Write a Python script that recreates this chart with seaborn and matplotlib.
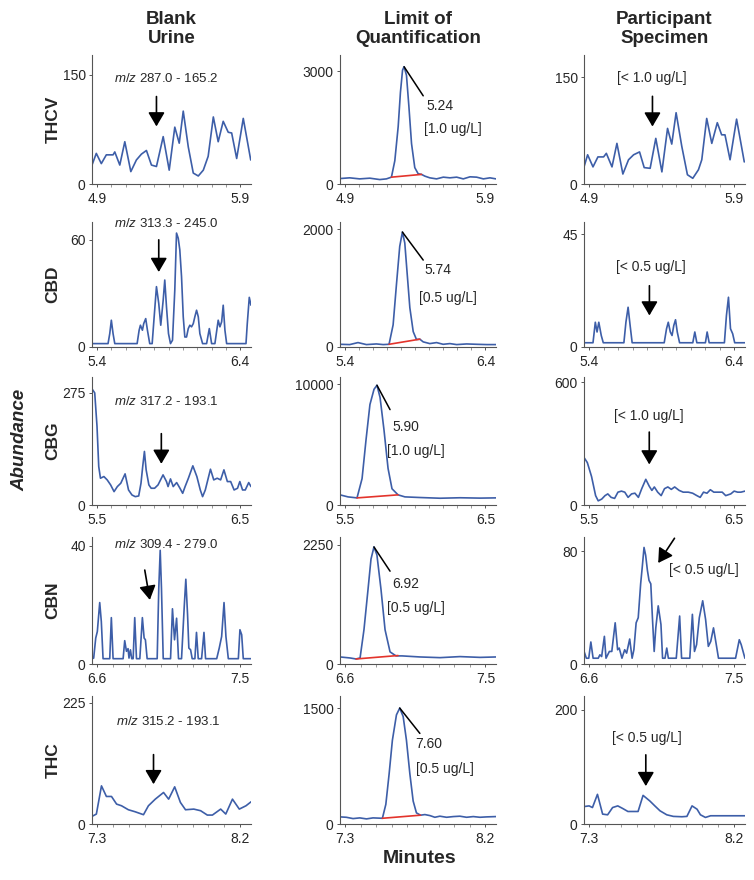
import numpy as np
import matplotlib
matplotlib.use("Agg")
import matplotlib.pyplot as plt
import seaborn as sns
from matplotlib.ticker import MultipleLocator

# ---------------- data ----------------
compounds = ["THCV", "CBD", "CBG", "CBN", "THC"]
column_titles = ["Blank\nUrine", "Limit of\nQuantification", "Participant\nSpecimen"]
x_ranges = [(4.9, 5.9), (5.4, 6.4), (5.5, 6.5), (6.6, 7.5), (7.3, 8.2)]
transitions = ["287.0 - 165.2", "313.3 - 245.0", "317.2 - 193.1", "309.4 - 279.0", "315.2 - 193.1"]
# labelled y tick (blank, loq, participant) and the axis top
y_top_ticks = [(150, 3000, 150), (60, 2000, 45), (275, 10000, 600), (40, 2250, 80), (225, 1500, 200)]
y_limits = [(177, 3430, 181), (70, 2125, 50), (314, 10600, 625), (43, 2400, 90), (238, 1656, 224)]
loq_rt = ["5.24", "5.74", "5.90", "6.92", "7.60"]
loq_conc = ["[1.0 ug/L]", "[0.5 ug/L]", "[1.0 ug/L]", "[0.5 ug/L]", "[0.5 ug/L]"]
participant_conc = ["[< 1.0 ug/L]", "[< 0.5 ug/L]", "[< 1.0 ug/L]", "[< 0.5 ug/L]", "[< 0.5 ug/L]"]

# THCV
thcv_blank_t = [4.865, 4.895, 4.930, 4.965, 5.012, 5.024, 5.059, 5.094, 5.136, 5.175, 5.210, 5.245, 5.280,
                5.315, 5.362, 5.404, 5.443, 5.474, 5.502, 5.537, 5.572, 5.607, 5.642, 5.676, 5.712, 5.746,
                5.781, 5.816, 5.840, 5.875, 5.921, 5.973]
thcv_blank_y = [26, 42, 28, 40, 40, 44, 26, 58, 17, 33, 41, 46, 26, 24, 65, 19, 78, 56, 100, 51, 15, 11, 19,
                38, 92, 58, 86, 71, 70, 35, 90, 33]
thcv_loq_t = [4.865, 4.934, 5.005, 5.077, 5.148, 5.195, 5.231, 5.255, 5.279, 5.295, 5.310, 5.321, 5.338, 5.355,
              5.374, 5.397, 5.421, 5.445, 5.469, 5.504, 5.552, 5.600, 5.647, 5.695, 5.742, 5.790, 5.837, 5.885,
              5.932, 5.975]
thcv_loq_y = [145, 164, 136, 155, 118, 136, 182, 618, 1527, 2436, 3027, 3118, 2891, 2073, 1073, 436, 273, 255,
              209, 164, 136, 182, 164, 182, 136, 191, 182, 136, 164, 136]
thcv_base_t = [5.231, 5.445]
thcv_base_y = [182, 255]
thcv_part_t = [4.865, 4.890, 4.927, 4.961, 5.000, 5.019, 5.058, 5.092, 5.133, 5.172, 5.207, 5.248, 5.280, 5.321,
               5.360, 5.402, 5.441, 5.470, 5.500, 5.539, 5.578, 5.615, 5.654, 5.677, 5.711, 5.746, 5.784, 5.814,
               5.837, 5.872, 5.917, 5.970]
thcv_part_y = [24, 41, 24, 38, 38, 43, 24, 57, 14, 34, 41, 45, 23, 22, 64, 17, 78, 56, 100, 53, 13, 8, 20, 34,
               92, 57, 86, 69, 69, 34, 91, 31]

# CBD
cbd_blank_t = [5.365, 5.477, 5.489, 5.500, 5.512, 5.524, 5.680, 5.694, 5.703, 5.717, 5.726, 5.740, 5.752, 5.768,
               5.785, 5.799, 5.815, 5.831, 5.845, 5.862, 5.873, 5.885, 5.899, 5.913, 5.927, 5.943, 5.955, 5.967,
               5.978, 5.990, 6.002, 6.013, 6.025, 6.037, 6.048, 6.060, 6.072, 6.083, 6.095, 6.107, 6.118, 6.137,
               6.165, 6.184, 6.200, 6.223, 6.246, 6.258, 6.270, 6.281, 6.293, 6.305, 6.440, 6.449, 6.463, 6.475]
cbd_blank_y = [1.9, 1.9, 7.5, 15, 7.5, 1.9, 1.9, 9.4, 12.2, 9.4, 13.1, 15.9, 9.4, 1.9, 1.9, 16.9, 33.8, 24.4,
               12.2, 26.3, 37.5, 22.5, 7.5, 1.9, 3.8, 31.9, 63.8, 60.9, 54.4, 39.4, 16.9, 5.6, 5.6, 10.3, 12.2,
               11.3, 13.1, 16.9, 20.6, 16.9, 7.5, 1.9, 1.9, 10.3, 1.9, 1.9, 15.0, 11.3, 14.1, 23.4, 9.4, 1.9,
               1.9, 13.1, 27.8, 23.4]
cbd_loq_t = [5.365, 5.434, 5.493, 5.553, 5.624, 5.672, 5.714, 5.743, 5.767, 5.790, 5.809, 5.826, 5.843, 5.862,
             5.886, 5.909, 5.933, 5.957, 6.004, 6.052, 6.099, 6.147, 6.195, 6.266, 6.337, 6.409, 6.475]
cbd_loq_y = [46, 41, 75, 41, 52, 41, 46, 377, 1072, 1710, 1954, 1768, 1246, 667, 261, 128, 133, 87, 58, 75, 46,
             58, 41, 52, 46, 41, 41]
cbd_base_t = [5.714, 5.933]
cbd_base_y = [46, 133]
cbd_part_t = [5.365, 5.427, 5.443, 5.455, 5.467, 5.484, 5.498, 5.640, 5.654, 5.669, 5.683, 5.697, 5.918, 5.934,
              5.946, 5.960, 5.972, 5.984, 5.996, 6.008, 6.024, 6.115, 6.129, 6.143, 6.202, 6.214, 6.228, 6.333,
              6.347, 6.361, 6.375, 6.390, 6.404, 6.475]
cbd_part_y = [1.7, 1.7, 9.9, 6.0, 9.9, 4.6, 1.7, 1.7, 9.9, 15.9, 8.6, 1.7, 1.7, 7.3, 9.9, 6.0, 4.6, 8.6, 10.9,
              6.0, 1.7, 1.7, 6.0, 1.7, 1.7, 6.0, 1.7, 1.7, 12.6, 19.9, 7.3, 5.3, 1.7, 1.7]

# CBG
cbg_blank_t = [5.465, 5.484, 5.500, 5.512, 5.524, 5.548, 5.571, 5.595, 5.619, 5.642, 5.666, 5.696, 5.720, 5.744,
               5.767, 5.791, 5.807, 5.819, 5.831, 5.843, 5.862, 5.878, 5.902, 5.926, 5.961, 5.985, 5.996, 6.013,
               6.032, 6.056, 6.079, 6.098, 6.115, 6.138, 6.169, 6.197, 6.221, 6.237, 6.256, 6.292, 6.315, 6.339,
               6.363, 6.386, 6.410, 6.433, 6.457, 6.481, 6.497, 6.516, 6.535, 6.559, 6.575]
cbg_blank_y = [284.9, 275, 193, 94.4, 65.7, 69.8, 61.6, 49.3, 32.8, 45.2, 53.4, 76.4, 36.9, 24.6, 20.5, 22.2,
               53.4, 94.4, 131.4, 86.2, 49.3, 41.1, 41.1, 49.3, 73.9, 57.5, 45.2, 64.0, 45.2, 55.0, 41.1, 28.7,
               45.2, 65.7, 96.1, 69.8, 36.9, 20.5, 36.9, 87.8, 61.6, 65.7, 61.6, 86.2, 57.5, 57.5, 36.9, 41.1,
               57.5, 36.9, 36.9, 55.0, 45.2]
cbg_loq_t = [5.465, 5.522, 5.586, 5.622, 5.650, 5.678, 5.707, 5.728, 5.750, 5.778, 5.807, 5.835, 5.878, 5.927,
             6.034, 6.177, 6.319, 6.461, 6.575]
cbg_loq_y = [840, 672, 588, 2185, 5378, 8319, 9580, 9916, 8907, 6218, 3025, 1345, 840, 672, 620, 560, 600, 570,
             590]
cbg_base_t = [5.586, 5.878]
cbg_base_y = [588, 840]
cbg_part_t = [5.465, 5.488, 5.517, 5.545, 5.563, 5.587, 5.610, 5.629, 5.652, 5.676, 5.699, 5.723, 5.746, 5.769,
              5.793, 5.816, 5.840, 5.863, 5.891, 5.915, 5.933, 5.950, 5.973, 5.997, 6.020, 6.043, 6.067, 6.090,
              6.121, 6.149, 6.184, 6.214, 6.243, 6.266, 6.289, 6.313, 6.336, 6.360, 6.383, 6.418, 6.442, 6.477,
              6.500, 6.524, 6.547, 6.575]
cbg_part_y = [232, 207, 139, 45.8, 20.3, 28.8, 45.8, 54.2, 37.3, 32.2, 62.7, 67.8, 62.7, 37.3, 54.2, 57.6, 37.3,
              79.7, 125.4, 91.5, 71.2, 88.1, 62.7, 45.8, 79.7, 88.1, 76.3, 88.1, 71.2, 62.7, 62.7, 57.6, 45.8,
              37.3, 62.7, 57.6, 74.6, 62.7, 62.7, 62.7, 45.8, 54.2, 67.8, 62.7, 62.7, 67.8]

# CBN
cbn_blank_t = [6.569, 6.579, 6.592, 6.602, 6.617, 6.627, 6.638, 6.680, 6.690, 6.701, 6.764, 6.774, 6.785, 6.795,
               6.801, 6.810, 6.818, 6.827, 6.837, 6.848, 6.869, 6.885, 6.896, 6.904, 6.915, 6.978, 6.988, 6.997,
               7.005, 7.016, 7.062, 7.074, 7.087, 7.100, 7.112, 7.131, 7.148, 7.158, 7.169, 7.177, 7.188, 7.198,
               7.215, 7.225, 7.236, 7.257, 7.272, 7.282, 7.352, 7.368, 7.383, 7.398, 7.410, 7.425, 7.488, 7.498,
               7.509, 7.519, 7.568]
cbn_blank_y = [1.8, 2.0, 8.8, 11.0, 20.8, 14.4, 1.8, 1.8, 15.7, 1.8, 1.8, 7.9, 4.3, 5.2, 2.0, 4.8, 1.8, 1.8,
               15.7, 1.8, 1.8, 15.7, 8.8, 8.2, 1.8, 1.8, 25.6, 38.5, 25.6, 1.8, 1.8, 18.7, 8.2, 15.5, 1.8, 1.8,
               19.4, 28.7, 16.6, 5.4, 4.8, 1.8, 1.8, 10.7, 1.8, 1.8, 10.7, 1.8, 1.8, 5.4, 9.3, 20.8, 9.3, 1.8,
               1.8, 11.6, 9.9, 1.8, 1.8]
cbn_loq_t = [6.569, 6.633, 6.671, 6.697, 6.722, 6.748, 6.767, 6.786, 6.805, 6.831, 6.857, 6.889, 6.927, 6.966,
             7.081, 7.209, 7.337, 7.465, 7.568]
cbn_loq_y = [133, 114, 95, 114, 648, 1411, 1983, 2212, 2060, 1411, 648, 229, 153, 153, 133, 120, 140, 125, 133]
cbn_base_t = [6.671, 6.940]
cbn_base_y = [95, 160]
cbn_part_t = [6.569, 6.583, 6.598, 6.611, 6.625, 6.657, 6.667, 6.678, 6.695, 6.705, 6.726, 6.741, 6.762, 6.777,
              6.787, 6.804, 6.821, 6.833, 6.852, 6.867, 6.878, 6.892, 6.905, 6.920, 6.930, 6.941, 6.951, 6.962,
              6.972, 6.983, 6.993, 7.004, 7.014, 7.029, 7.046, 7.056, 7.071, 7.082, 7.092, 7.141, 7.162, 7.174,
              7.225, 7.241, 7.254, 7.267, 7.284, 7.305, 7.323, 7.340, 7.355, 7.372, 7.386, 7.403, 7.509, 7.532,
              7.544, 7.567]
cbn_part_y = [8.9, 4.1, 4.1, 15.6, 4.1, 4.1, 6.5, 5.3, 19.6, 4.1, 8.9, 8.9, 29.2, 10.1, 11.3, 4.1, 10.1, 7.7,
              17.7, 4.1, 10.1, 29.2, 32.8, 56.8, 68.7, 82.6, 77.1, 66.3, 59.2, 56.8, 32.8, 8.9, 25.6, 41.2, 28.0,
              4.1, 4.1, 11.3, 4.1, 4.1, 34.0, 4.1, 4.1, 35.2, 8.9, 13.7, 32.8, 44.8, 31.6, 12.5, 16.0, 25.6,
              16.0, 4.1, 4.1, 17.2, 13.7, 4.1]

# THC
thc_blank_t = [7.269, 7.296, 7.328, 7.359, 7.391, 7.423, 7.454, 7.497, 7.539, 7.592, 7.623, 7.666, 7.718, 7.750,
               7.788, 7.824, 7.856, 7.908, 7.951, 7.993, 8.025, 8.077, 8.109, 8.151, 8.194, 8.236, 8.268]
thc_blank_y = [14.2, 18.5, 70.9, 51.2, 51.2, 37.0, 33.9, 26.5, 22.8, 17.3, 33.9, 46.2, 58.6, 46.2, 69.1, 40.1,
               26.5, 27.7, 24.7, 16.6, 16.6, 27.7, 18.5, 46.2, 27.7, 33.9, 41.3]
thc_loq_t = [7.269, 7.309, 7.352, 7.395, 7.438, 7.480, 7.540, 7.562, 7.583, 7.604, 7.630, 7.651, 7.673, 7.694,
             7.716, 7.737, 7.758, 7.784, 7.812, 7.844, 7.876, 7.908, 7.951, 7.994, 8.036, 8.079, 8.122, 8.165,
             8.208, 8.267]
thc_loq_y = [92, 87, 70, 79, 66, 79, 74, 254, 647, 1084, 1412, 1500, 1390, 1084, 647, 297, 144, 114, 122, 109,
             87, 101, 87, 96, 101, 87, 96, 87, 92, 96]
thc_base_t = [7.540, 7.784]
thc_base_y = [74, 114]
thc_part_t = [7.269, 7.300, 7.321, 7.352, 7.384, 7.415, 7.446, 7.478, 7.509, 7.541, 7.604, 7.635, 7.677, 7.708,
              7.740, 7.782, 7.823, 7.876, 7.907, 7.939, 7.970, 7.991, 8.022, 8.054, 8.267]
thc_part_y = [30.5, 31.7, 28.8, 51.9, 17.3, 16.1, 28.8, 31.7, 27.1, 21.9, 21.9, 50.1, 40.3, 31.7, 23.1, 16.1,
              13.3, 12.7, 13.3, 31.7, 25.9, 16.1, 11.5, 14.4, 14.4]

blank_traces = [(thcv_blank_t, thcv_blank_y), (cbd_blank_t, cbd_blank_y), (cbg_blank_t, cbg_blank_y),
                (cbn_blank_t, cbn_blank_y), (thc_blank_t, thc_blank_y)]
loq_traces = [(thcv_loq_t, thcv_loq_y), (cbd_loq_t, cbd_loq_y), (cbg_loq_t, cbg_loq_y),
              (cbn_loq_t, cbn_loq_y), (thc_loq_t, thc_loq_y)]
loq_baselines = [(thcv_base_t, thcv_base_y), (cbd_base_t, cbd_base_y), (cbg_base_t, cbg_base_y),
                 (cbn_base_t, cbn_base_y), (thc_base_t, thc_base_y)]
part_traces = [(thcv_part_t, thcv_part_y), (cbd_part_t, cbd_part_y), (cbg_part_t, cbg_part_y),
               (cbn_part_t, cbn_part_y), (thc_part_t, thc_part_y)]

# ---------------- layout / annotation placement ----------------
FIG_W, FIG_H = 754, 880
col_left_px = [92, 340, 584]
col_right_px = [251, 496, 745]
row_top_px = [55, 222, 377, 537, 696]
row_bot_px = [184, 347, 505, 664, 824]

# blank: (text x, text y), arrow tail, arrow tip
blank_text_xy = [(5.385, 145), (5.885, 69), (5.985, 254), (7.037, 40.4), (7.750, 191)]
blank_arrow = [((5.315, 120), (5.315, 79)), ((5.831, 60), (5.831, 42)), ((5.949, 175), (5.949, 101)),
               ((6.900, 31.8), (6.932, 21.7)), ((7.655, 129), (7.655, 74))]
# participant
part_text_xy = [(5.333, 148.6), (5.823, 31.8), (5.915, 435), (7.094, 66.3), (7.656, 150)]
part_text_ha = ["center", "center", "center", "left", "center"]
part_arrow = [((5.337, 123), (5.337, 80.6)), ((5.816, 24.5), (5.816, 12.6)), ((5.915, 356), (5.915, 198)),
              ((7.130, 89.1), (7.029, 71.6)), ((7.652, 121), (7.652, 66.3))]
# loq: leader end, rt label, concentration label
loq_leader_end = [(5.457, 2345), (5.957, 1478), (5.821, 7899), (6.889, 1754), (7.780, 1172)]
loq_rt_xy = [(5.481, 2073), (5.969, 1304), (5.835, 6470), (6.902, 1507), (7.748, 1041)]
loq_conc_xy = [(5.462, 1455), (5.926, 829), (5.799, 4454), (6.870, 1049), (7.758, 713)]

BLUE = "#3d5ea8"
RED = "#e3342c"
SPINE = "#555555"

sns.set_style("ticks")
plt.rcParams.update({
    "font.family": ["Liberation Sans", "DejaVu Sans"],
    "mathtext.fontset": "custom",
    "mathtext.rm": "Liberation Sans",
    "mathtext.it": "Liberation Sans:italic",
    "axes.edgecolor": SPINE,
    "axes.linewidth": 0.8,
})

fig = plt.figure(figsize=(FIG_W / 100, FIG_H / 100), dpi=100)


def make_axes(row, col):
    l = col_left_px[col] / FIG_W
    w = (col_right_px[col] - col_left_px[col]) / FIG_W
    b = 1 - row_bot_px[row] / FIG_H
    h = (row_bot_px[row] - row_top_px[row]) / FIG_H
    return fig.add_axes([l, b, w, h])


def style_axes(ax, row, col):
    lo, hi = x_ranges[row]
    span = hi - lo
    ax.set_xlim(lo - 0.035 * span, hi + 0.075 * span)
    ax.set_ylim(0, y_limits[row][col])
    ax.set_xticks([lo, hi], labels=[f"{lo:.1f}", f"{hi:.1f}"])
    ax.xaxis.set_minor_locator(MultipleLocator(0.1))
    top = y_top_ticks[row][col]
    ax.set_yticks([0, top], labels=["0", str(top)])
    ax.set_xlabel("")
    ax.set_ylabel("")
    ax.tick_params(axis="x", which="major", length=2.5, width=0.7, pad=3.5, labelsize=10, color=SPINE)
    ax.tick_params(axis="x", which="minor", length=2, width=0.6, color="#888888")
    ax.tick_params(axis="y", which="major", length=2, width=0.7, pad=2.5, labelsize=10, color=SPINE)
    sns.despine(ax=ax)


def draw_arrow(ax, tail, tip):
    ax.annotate("", xy=tip, xytext=tail,
                arrowprops=dict(arrowstyle="-|>,head_length=0.85,head_width=0.5", mutation_scale=10,
                                color="black", lw=1.2, shrinkA=0, shrinkB=0))


for r in range(5):
    # blank urine
    ax = make_axes(r, 0)
    t, y = blank_traces[r]
    sns.lineplot(x=t, y=y, ax=ax, color=BLUE, linewidth=1.2, estimator=None, sort=False)
    style_axes(ax, r, 0)
    tx, ty = blank_text_xy[r]
    ax.text(tx, ty, r"$\mathit{m/z}$ " + transitions[r], ha="center", va="center", fontsize=9.5)
    draw_arrow(ax, *blank_arrow[r])
    ax.text(-0.245, 0.5, compounds[r], transform=ax.transAxes, rotation=90, ha="center", va="center",
            fontsize=12.5, fontweight="bold")

    # limit of quantification
    ax = make_axes(r, 1)
    t, y = loq_traces[r]
    sns.lineplot(x=t, y=y, ax=ax, color=BLUE, linewidth=1.2, estimator=None, sort=False)
    bt, by = loq_baselines[r]
    sns.lineplot(x=bt, y=by, ax=ax, color=RED, linewidth=1.2, estimator=None, sort=False)
    style_axes(ax, r, 1)
    k = int(np.argmax(y))
    ex, ey = loq_leader_end[r]
    ax.plot([t[k], ex], [y[k], ey], color="black", lw=1.1)
    ax.text(*loq_rt_xy[r], loq_rt[r], ha="left", va="center", fontsize=10)
    ax.text(*loq_conc_xy[r], loq_conc[r], ha="left", va="center", fontsize=10)

    # participant specimen
    ax = make_axes(r, 2)
    t, y = part_traces[r]
    sns.lineplot(x=t, y=y, ax=ax, color=BLUE, linewidth=1.2, estimator=None, sort=False)
    style_axes(ax, r, 2)
    ax.text(*part_text_xy[r], participant_conc[r], ha=part_text_ha[r], va="center", fontsize=10)
    draw_arrow(ax, *part_arrow[r])

# column titles
for c in range(3):
    cx = (col_left_px[c] + col_right_px[c]) / 2 / FIG_W
    fig.text(cx, 1 - 29 / FIG_H, column_titles[c], ha="center", va="center", fontsize=13.5,
             fontweight="bold", linespacing=1.2)

fig.text(20 / FIG_W, 0.5, "Abundance", rotation=90, ha="center", va="center", fontsize=13.5,
         fontweight="bold", fontstyle="italic")
fig.text(420 / FIG_W, 1 - 858 / FIG_H, "Minutes", ha="center", va="center", fontsize=14, fontweight="bold")

fig.savefig("out.png", dpi=100)
